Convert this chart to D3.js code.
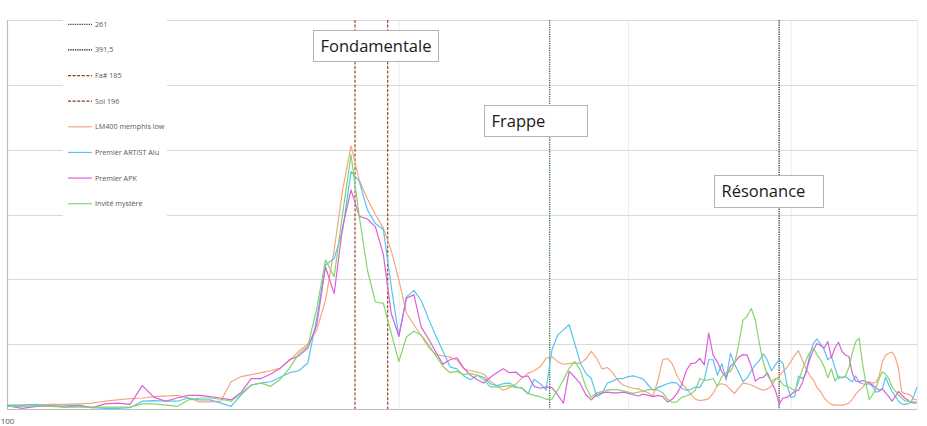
<!DOCTYPE html>
<html>
<head>
<meta charset="utf-8">
<script src="https://cdn.jsdelivr.net/npm/d3@7/dist/d3.min.js"></script>
<style>
  html, body { margin: 0; padding: 0; background: #ffffff; }
  svg { display: block; }
  text { font-family: "Open Sans", "Noto Sans", sans-serif; }
</style>
</head>
<body>
<svg id="chart" width="927" height="426"></svg>
<script>
// ---------- DATA ----------
const freqs = [100,102.7,105.4,108.1,110.8,113.5,116.2,118.9,121.6,124.3,127,129.7,132.4,135.1,137.8,140.5,143.2,145.9,148.6,151.3,154,156.7,159.4,162.1,164.8,167.5,170.2,172.9,175.6,178.3,181,183.7,186.4,189.1,191.8,194.5,197.2,199.9,202.6,205.3,208,210.7,213.4,216.1,218.8,221.5,224.2,226.9,229.6,232.3,235,237.7,240.4,243.1,245.8,248.5,251.2,253.9,256.6,259.3,262,264.7,267.4,270.1,272.8,275.5,278.2,280.9,283.6,286.3,289,291.7,294.4,297.1,299.8,302.5,305.2,307.9,310.6,313.3,316,318.7,321.4,324.1,326.8,329.5,332.2,334.9,337.6,340.3,343,345.7,348.4,351.1,353.8,356.5,359.2,361.9,364.6,367.3,370,372.7,375.4,378.1,380.8,383.5,386.2,388.9,391.6,394.3,397,399.7,402.4,405.1,407.8,410.5,413.2,415.9,418.6,421.3,424,426.7,429.4,432.1,434.8,437.5,440.2,442.9,445.6,448.3,451,453.7,456.4,459.1,461.8,464.5,467.2,469.9,472.6,475.3,478,480.7,483.4,486.1,488.8,491.5,494.2,496.9,499.6];

const lm400 = [0.5,0.6,0.6,0.7,0.7,0.8,0.9,1.2,1.4,1.6,1.7,1.9,2.0,2.1,1.7,1.1,1.1,1.2,
  4.2,5.0,5.3,5.6,5.9,6.3,7.5,8.9,10.0,12.2,16.8,24.5,33.8,40.6,35.3,32.4,30.0,27.9,24.5,19.9,
  14.8,13.0,11.3,9.5,8.4,8.2,8.0,7.6,6.2,5.9,5.7,5.4,4.3,3.6,2.9,3.3,3.8,4.8,5.5,5.9,6.5,7.8,
  8.1,7.3,6.9,7.0,7.1,7.0,7.7,8.9,7.8,6.2,6.4,5.6,4.4,3.7,3.4,3.2,3.1,2.8,2.5,2.0,4.4,7.6,7.8,7.0,5.2,3.9,3.2,2.3,1.5,1.3,1.4,1.6,
  2.4,3.7,3.9,3.7,3.0,2.4,3.3,4.0,3.9,3.7,3.4,3.1,2.9,3.1,3.5,4.5,5.1,5.8,6.4,7.3,8.3,9.0,7.6,6.3,5.2,4.5,
  3.3,2.7,1.7,1.1,0.7,0.6,0.6,0.6,0.7,0.9,1.5,2.3,2.9,3.3,4.0,4.2,4.0,4.1,5.0,7.3,8.3,8.6,8.8,8.0,6.3,2.7,2.4,2.3,2.1,1.5,1.4];

const artistAlu = [0.6,0.6,0.7,0.5,0.5,0.6,0.2,0.1,0.1,0.2,1.2,1.3,1.2,1.2,1.7,1.4,1.4,0.9,
  0.4,2.2,3.7,4.0,4.2,4.9,5.6,5.9,7.1,14.0,22.2,23.2,27.6,36.6,35.1,30.7,28.6,27.7,19.0,11.2,
  17.3,18.3,16.7,13.9,11.3,8.9,6.5,6.2,5.1,4.5,5.2,4.9,3.9,3.6,3.9,4.0,3.4,3.2,2.3,4.6,3.9,2.9,
  9.1,11.4,12.2,13.0,10.1,7.1,5.5,4.7,1.9,2.4,4.0,4.3,4.7,4.7,5.0,5.1,4.9,4.6,3.7,2.9,3.3,3.6,3.9,4.1,4.0,3.2,2.9,3.0,3.4,3.3,4.5,7.6,
  7.6,5.2,7.0,4.5,8.6,6.9,5.6,4.2,4.8,5.9,6.8,7.5,8.5,7.5,5.9,6.8,7.6,7.0,3.7,1.8,1.9,5.1,4.7,5.4,8.3,10.1,
  10.8,10.0,9.1,7.6,8.1,6.4,4.7,4.9,5.0,4.6,4.2,5.1,4.1,3.9,3.8,3.9,3.5,2.6,2.7,3.1,4.9,3.7,2.7,2.0,1.2,0.8,0.7,0.8,1.0,2.1,3.4];

const apk = [0.5,0.1,0.4,0.5,0.3,0.5,0.2,0.8,0.9,0.7,3.6,1.8,1.2,1.7,2.1,2.1,1.9,1.7,
  1.4,2.6,4.7,4.7,5.4,6.3,7.6,8.2,9.4,13.0,21.9,17.8,28.1,33.8,29.7,29.3,28.1,23.8,14.8,11.2,
  17.1,17.6,12.6,10.8,8.8,6.9,7.6,7.9,6.3,5.2,4.5,4.0,4.9,5.6,6.2,5.6,5.7,4.9,5.1,3.5,3.2,3.4,
  3.3,2.2,0.9,5.8,4.9,3.9,2.2,1.4,2.2,2.5,2.6,2.5,2.5,2.6,2.4,2.2,2.0,2.3,2.1,1.9,2.1,1.9,1.1,1.5,2.4,3.7,5.9,7.0,7.1,7.8,6.8,11.7,
  8.3,7.2,5.7,4.9,6.6,7.2,8.0,8.4,8.3,6.6,4.3,4.8,4.9,5.6,4.2,2.9,0.8,1.7,1.8,2.2,2.7,2.9,4.0,5.8,7.6,9.1,
  10.1,9.8,9.4,10.4,7.9,9.4,10.3,8.9,8.3,8.1,5.5,4.3,4.2,4.4,4.2,4.0,3.7,3.3,2.9,3.1,2.5,1.9,1.2,1.9,2.7,2.2,1.7,1.4,1.0,0.9,1.0];

const invite = [0.4,0.4,0.5,0.4,0.3,0.3,0.3,0.3,0.3,0.3,0.8,0.8,0.6,0.4,1.4,1.7,1.7,1.5,
  1.2,2.4,3.7,4.0,3.5,4.6,6.3,8.5,9.7,15.5,23.0,20.4,30.2,39.2,29.7,21.4,16.5,16.3,11.7,7.3,
  11.1,12.0,11.4,9.9,8.2,6.6,5.6,5.8,5.3,5.5,5.2,4.5,3.4,3.4,3.5,3.6,3.3,3.3,2.4,2.1,1.9,1.5,
  1.5,2.9,4.5,6.3,7.3,6.0,3.4,1.8,2.5,2.7,2.9,3.0,3.0,2.8,2.6,2.4,2.6,2.7,3.0,3.0,2.9,2.5,1.5,1.0,1.1,1.8,2.0,2.3,2.9,4.7,4.4,4.5,
  4.7,3.5,5.0,5.6,5.8,7.0,10.1,13.7,14.3,15.5,13.7,10.1,7.1,5.2,4.2,4.7,4.6,3.7,3.5,3.2,2.8,4.1,6.0,7.5,8.7,9.4,
  8.4,7.6,6.5,4.8,6.2,4.3,5.1,4.8,5.1,6.4,8.6,10.4,10.9,7.0,4.0,1.5,2.2,3.2,4.7,5.7,5.4,4.7,3.4,2.8,2.2,1.7,1.3,1.2,1.1,1.1,1.0];

const refNames = ["261", "391,5", "Fa# 185", "Sol 196"];
const refFreqs = [261, 391.5, 185, 196];
const seriesNames = ["LM400 memphis low", "Premier ARTIST Alu", "Premier APK", "Invité mystère"];
const xTickLabels = [100];
const yGridValues = [10, 20, 30, 40, 50, 60];
const xMinorGrid = [200, 300, 400, 500];
const annotations = ["Fondamentale", "Frappe", "Résonance"];

// ---------- STYLE / LAYOUT ----------
const plot = { left: 7, right: 917.5, top: 20, bottom: 409 };
const seriesColors = ["#F5A680", "#55C5F2", "#DC5FD7", "#84D66B"];
const refStyles = [
  { color: "#1d5c24", dash: "1.3,1" },
  { color: "#111111", dash: "1.3,1" },
  { color: "#8e3a10", dash: "3,1.6" },
  { color: "#873512", dash: "3,1.6" }
];
const annotBoxes = [
  { x: 313.5, y: 30.5, w: 125, h: 31 },
  { x: 484.5, y: 105.5, w: 103, h: 31 },
  { x: 714.5, y: 175.5, w: 109, h: 32 }
];

const svg = d3.select("#chart");
const x = d3.scaleLog().domain([100, 500]).range([plot.left, plot.right]);
const y = d3.scaleLinear().domain([0, 60]).range([plot.bottom, plot.top]);

// gridlines
svg.append("g").selectAll("line").data(xMinorGrid).join("line")
  .attr("x1", d => x(d)).attr("x2", d => x(d))
  .attr("y1", plot.top).attr("y2", plot.bottom)
  .attr("stroke", "#ececec").attr("stroke-width", 1);
svg.append("g").selectAll("line").data(yGridValues).join("line")
  .attr("x1", plot.left).attr("x2", plot.right)
  .attr("y1", d => Math.round(y(d)) + 0.5).attr("y2", d => Math.round(y(d)) + 0.5)
  .attr("stroke", "#d9d9d9").attr("stroke-width", 1);

// axes lines
svg.append("line").attr("x1", plot.left).attr("x2", plot.right)
  .attr("y1", plot.bottom + 0.5).attr("y2", plot.bottom + 0.5)
  .attr("stroke", "#bfbfbf").attr("stroke-width", 1.2);
svg.append("line").attr("x1", plot.left + 0.5).attr("x2", plot.left + 0.5)
  .attr("y1", plot.top).attr("y2", plot.bottom)
  .attr("stroke", "#bfbfbf").attr("stroke-width", 1.2);

// x tick label
const xAxis = d3.axisBottom(x).tickValues(xTickLabels).tickSize(0).tickFormat(d3.format("d"));
const gx = svg.append("g").attr("transform", `translate(0,${plot.bottom + 6})`).call(xAxis);
gx.select(".domain").remove();
gx.selectAll("text").attr("font-size", 8).attr("fill", "#595959")
  .attr("font-family", "'Open Sans', sans-serif");

// reference lines
svg.append("g").selectAll("line").data(refFreqs).join("line")
  .attr("x1", d => x(d)).attr("x2", d => x(d))
  .attr("y1", plot.top).attr("y2", plot.bottom)
  .attr("stroke", (d, i) => refStyles[i].color)
  .attr("stroke-dasharray", (d, i) => refStyles[i].dash)
  .attr("stroke-width", 1.1);

// series
const allSeries = [lm400, artistAlu, apk, invite];
const line = d3.line().x((d, i) => x(freqs[i])).y(d => y(d));
svg.append("g").selectAll("path").data(allSeries).join("path")
  .attr("d", d => line(d))
  .attr("fill", "none")
  .attr("stroke", (d, i) => seriesColors[i])
  .attr("stroke-width", 1.2)
  .attr("stroke-linejoin", "round");

// legend
const legendItems = refNames.map((n, i) => ({ name: n, color: refStyles[i].color, dash: refStyles[i].dash }))
  .concat(seriesNames.map((n, i) => ({ name: n, color: seriesColors[i], dash: null })));
const lg = svg.append("g");
lg.append("rect").attr("x", 63).attr("y", 17).attr("width", 104).attr("height", 200).attr("fill", "#ffffff");
const li = lg.selectAll("g").data(legendItems).join("g")
  .attr("transform", (d, i) => `translate(0,${24.3 + i * 25.63})`);
li.append("line").attr("x1", 68).attr("x2", 92).attr("y1", 0).attr("y2", 0)
  .attr("stroke", d => d.color).attr("stroke-width", 1.2)
  .attr("stroke-dasharray", d => d.dash);
li.append("text").attr("x", 95).attr("y", 0).attr("dy", "0.35em")
  .attr("font-size", 7.2).attr("fill", "#595959").text(d => d.name);

// annotation boxes
const ag = svg.append("g").selectAll("g").data(annotations).join("g");
ag.append("rect")
  .attr("x", (d, i) => annotBoxes[i].x).attr("y", (d, i) => annotBoxes[i].y)
  .attr("width", (d, i) => annotBoxes[i].w).attr("height", (d, i) => annotBoxes[i].h)
  .attr("fill", "#ffffff").attr("stroke", "#b3b3b3").attr("stroke-width", 1);
ag.append("text")
  .attr("x", (d, i) => annotBoxes[i].x + 7)
  .attr("y", (d, i) => annotBoxes[i].y + 21.3)
  .attr("font-size", 16.5).attr("fill", "#1a1a1a").text(d => d);
</script>
</body>
</html>
